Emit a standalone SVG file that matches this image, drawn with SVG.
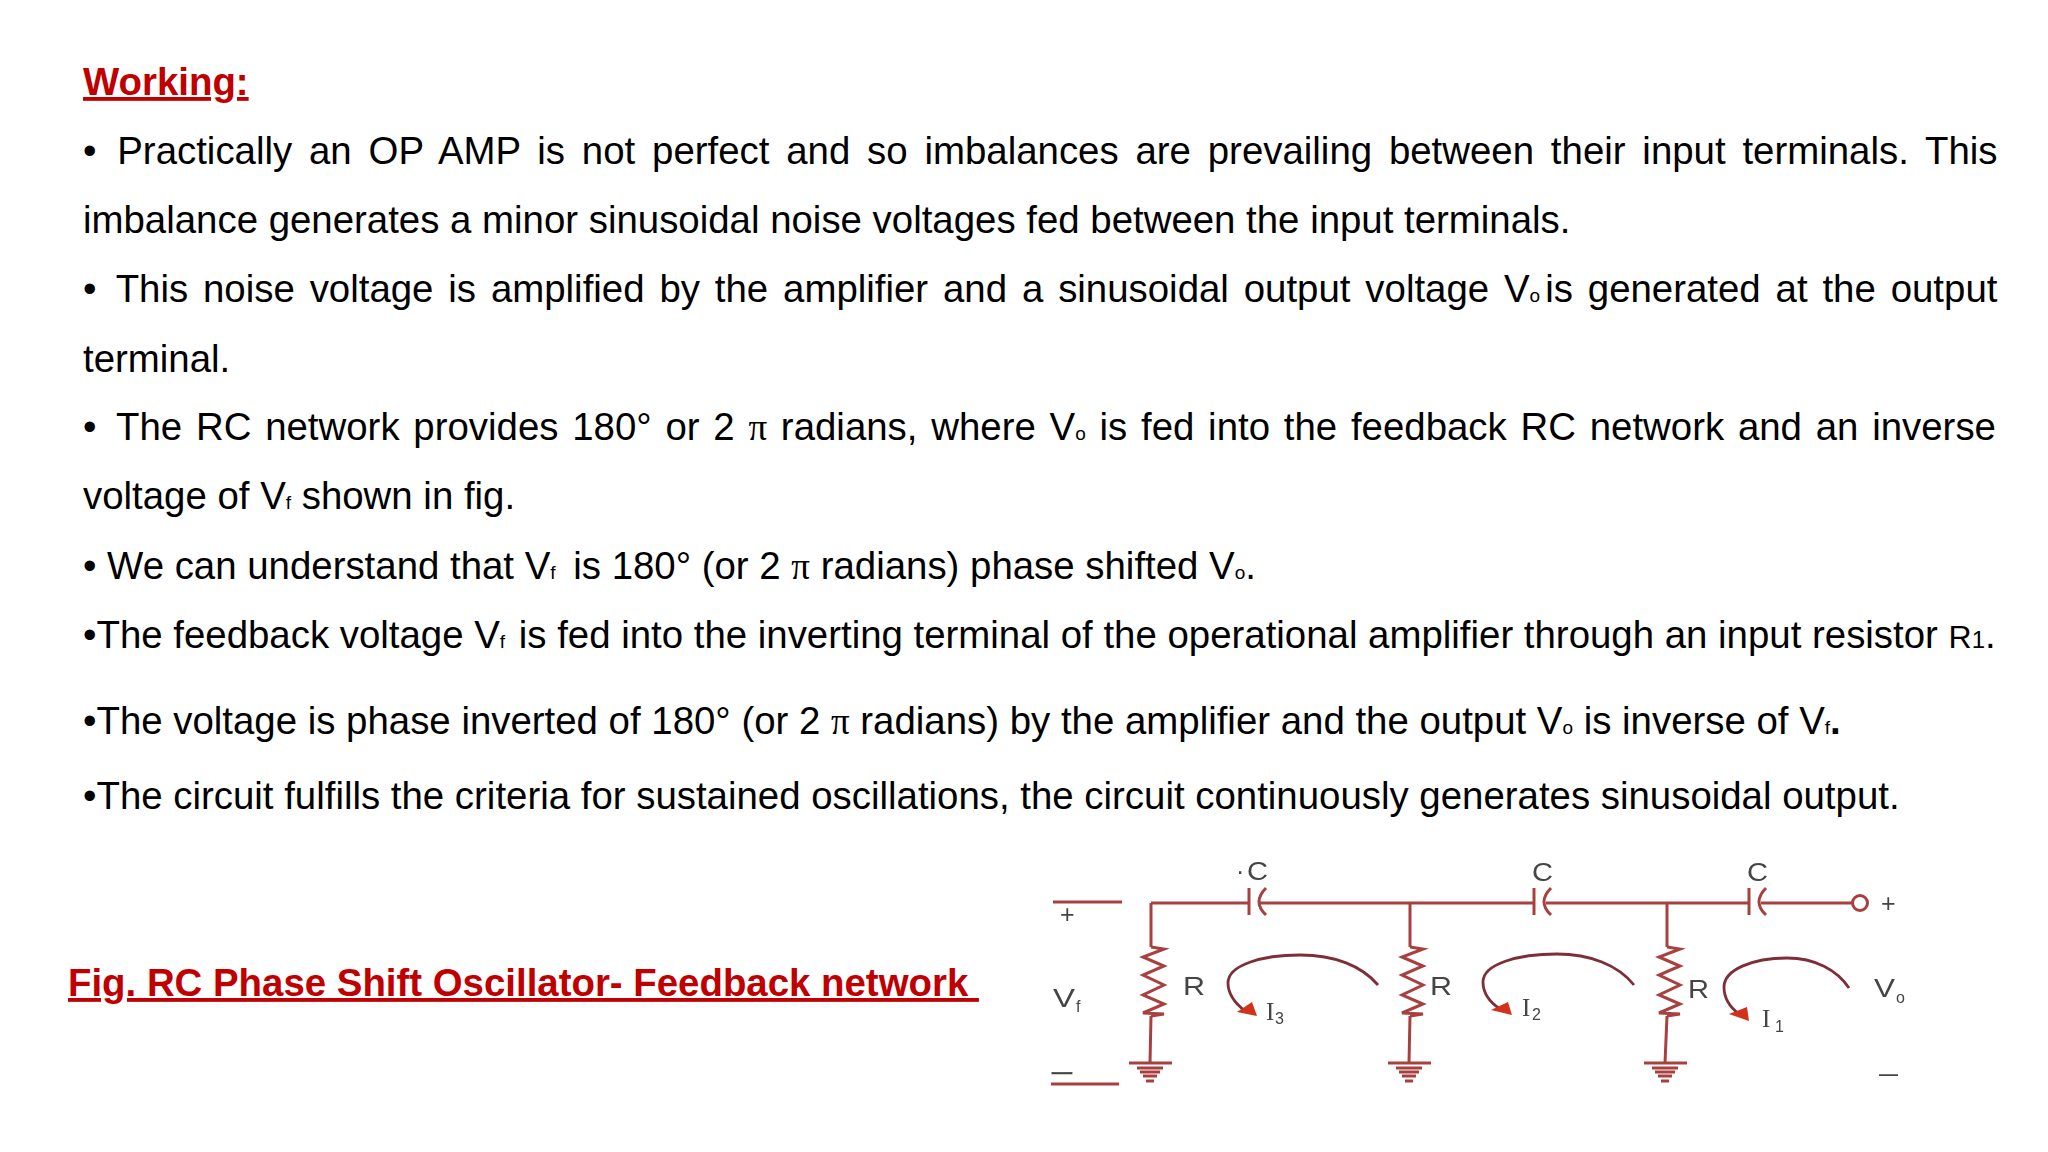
<svg xmlns="http://www.w3.org/2000/svg" width="2048" height="1152" viewBox="0 0 2048 1152">
<style>
text{font-family:"Liberation Sans",Arial,sans-serif}
.b{font-size:38.4px;fill:#000}
.h{font-size:38.4px;font-weight:bold;fill:#c00000;text-decoration:underline}
.s{font-size:19px}
.p{font-family:"Liberation Serif",serif;font-size:37px}
.w{fill:none;stroke:#a8403f;stroke-width:3}
.a{fill:none;stroke:#7d2f38;stroke-width:2.8}
.c{fill:#444;font-size:25px}
.i{fill:#444;font-family:"Liberation Serif",serif;font-size:25px}
.n{fill:#444;font-size:16px}
.t{fill:#d2301e}
</style>
<defs>
<filter id="soft" x="-5%" y="-5%" width="110%" height="110%"><feGaussianBlur stdDeviation="0.5"/></filter>
<g id="gnd" class="w"><path d="M-21 0H22M-13 5H13M-10 9H10M-7 13H7M-4 18H4" stroke-width="3.2"/></g>
<path id="res" class="w" d="M0 0L13 2L-8 10L13 19L-8 28L13 38L-8 48L13 57L-8 66L13 67L0 69"/>
<g id="cap" class="w"><path d="M0-14V13"/><path d="M17-14Q3 0 17 13"/></g>
</defs>
<rect width="2048" height="1152" fill="#fff"/>
<text id="title" class="h" x="83" y="95">Working:</text>
<g id="body">
<text class="b" x="83" y="164" word-spacing="6.15">• <tspan dx="4">Practically an OP AMP is not perfect and so imbalances are prevailing between their input terminals. This</tspan></text>
<text class="b" x="83" y="233">imbalance generates a minor sinusoidal noise voltages fed between the input terminals.</text>
<text class="b" x="83" y="302" word-spacing="4.2">• <tspan dx="5">This noise voltage is amplified by the amplifier and a sinusoidal output voltage V</tspan><tspan class="s">o</tspan><tspan dx="5">is generated at the output</tspan></text>
<text class="b" x="83" y="372">terminal.</text>
<text class="b" x="83" y="440" word-spacing="3.1">• <tspan dx="6.5">The RC network provides 180° or 2 </tspan><tspan class="p">π</tspan> radians, where V<tspan class="s">o</tspan> is fed into the feedback RC network and an inverse</text>
<text class="b" x="83" y="509">voltage of V<tspan class="s">f</tspan> shown in fig.</text>
<text class="b" x="83" y="579">• We can understand that V<tspan class="s">f</tspan><tspan dx="7"> is 180° (or 2 </tspan><tspan class="p">π</tspan> radians) phase shifted V<tspan class="s">o</tspan>.</text>
<text class="b" x="83" y="648">•The feedback voltage V<tspan class="s">f</tspan><tspan dx="3"> is fed into the inverting terminal of the operational amplifier through an input resistor </tspan><tspan font-size="32">R</tspan><tspan font-size="24">1</tspan>.</text>
<text class="b" x="83" y="734">•The voltage is phase inverted of 180° (or 2 <tspan class="p">π</tspan> radians) by the amplifier and the output V<tspan class="s">o</tspan> is inverse of V<tspan class="s">f</tspan><tspan font-weight="bold">.</tspan></text>
<text class="b" x="83" y="809">•The circuit fulfills the criteria for sustained oscillations, the circuit continuously generates sinusoidal output.</text>
</g>
<text id="caption" class="h" x="68" y="996" xml:space="preserve">Fig. RC Phase Shift Oscillator- Feedback network </text>
<g id="circuit" filter="url(#soft)">
<g id="connectors">
<path class="w" d="M1053 902H1122M1151 903H1249M1260 903H1534M1546 903H1749M1761 903H1852"/>
<path class="w" d="M1151 903V947M1151 1016L1150 1063M1410 903V947M1410 1016L1409 1063M1667 903V947M1667 1016L1665 1063M1051 1084H1119"/>
<path class="a" d="M1378 985C1362 966 1335 955 1300 955C1262 955 1228 965 1228 983C1228 995 1236 1004 1245 1011"/>
<path class="a" d="M1634 985C1618 965 1590 954 1557 954C1518 954 1483 964 1483 982C1483 994 1491 1003 1500 1009"/>
<path class="a" d="M1849 988C1837 970 1815 958 1787 958C1752 958 1724 970 1724 987C1724 999 1731 1008 1739 1014"/>
</g>
<g id="arrows">
<polygon class="t" points="1257,1016 1237,1012 1252,1002"/>
<polygon class="t" points="1512,1015 1491,1010 1508,1002"/>
<polygon class="t" points="1749,1021 1729,1014 1747,1007"/>
</g>
<g id="R1"><use href="#res" x="1151" y="947"/><use href="#gnd" x="1150" y="1063"/></g>
<g id="R2"><use href="#res" x="1410" y="947"/><use href="#gnd" x="1409" y="1063"/></g>
<g id="R3"><use href="#res" x="1667" y="947"/><use href="#gnd" x="1665" y="1063"/></g>
<g id="C1"><use href="#cap" x="1249" y="902"/></g>
<g id="C2"><use href="#cap" x="1534" y="902"/></g>
<g id="C3"><use href="#cap" x="1749" y="902"/></g>
<g id="output"><circle class="w" cx="1860" cy="903" r="7.5" fill="#fff"/></g>
<g id="labels">
<text class="c" x="1236" y="880" font-size="28">·</text>
<text class="c" x="1247" y="880" textLength="21" lengthAdjust="spacingAndGlyphs">C</text>
<text class="c" x="1532" y="881" textLength="21" lengthAdjust="spacingAndGlyphs">C</text>
<text class="c" x="1747" y="881" textLength="21" lengthAdjust="spacingAndGlyphs">C</text>
<text class="c" x="1183" y="995" textLength="22" lengthAdjust="spacingAndGlyphs">R</text>
<text class="c" x="1430" y="995" textLength="22" lengthAdjust="spacingAndGlyphs">R</text>
<text class="c" x="1688" y="998" textLength="21" lengthAdjust="spacingAndGlyphs">R</text>
<text class="c" x="1053" y="1007" textLength="22" lengthAdjust="spacingAndGlyphs">V</text>
<text class="n" x="1076" y="1012">f</text>
<text class="c" x="1874" y="997" textLength="21" lengthAdjust="spacingAndGlyphs">V</text>
<text class="n" x="1896" y="1003">o</text>
<text class="i" x="1266" y="1020">I</text><text class="n" x="1275" y="1024">3</text>
<text class="i" x="1522" y="1016">I</text><text class="n" x="1532" y="1020">2</text>
<text class="i" x="1762" y="1027">I</text><text class="n" x="1775" y="1032">1</text>
<text class="c" x="1060" y="923">+</text>
<text class="c" x="1052" y="1080" textLength="20" lengthAdjust="spacingAndGlyphs" stroke="#444" stroke-width="0.6">–</text>
<text class="c" x="1881" y="912">+</text>
<text class="c" x="1879" y="1082" textLength="19" lengthAdjust="spacingAndGlyphs">–</text>
</g>
</g>
</svg>
